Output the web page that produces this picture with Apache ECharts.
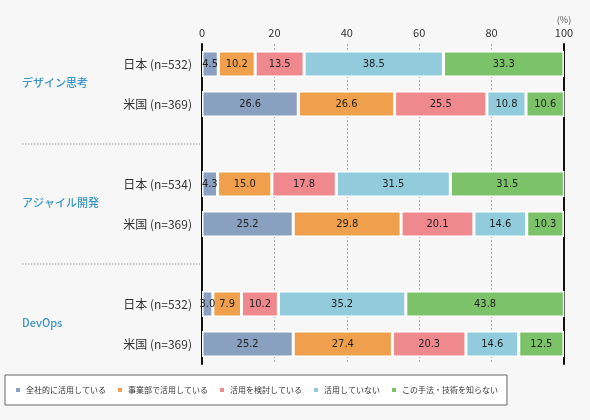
<!DOCTYPE html>
<html>
<head>
<meta charset="utf-8">
<script src="https://cdn.jsdelivr.net/npm/echarts@6/dist/echarts.min.js"></script>
<style>
  html, body { margin: 0; padding: 0; background: #f6f7f6; }
  #chart { width: 590px; height: 420px; }
</style>
</head>
<body>
<div id="chart"></div>
<script>
// rows from top; empty rows are the gaps between groups
const rowLabels = ['日本 (n=532)', '米国 (n=369)', '', '日本 (n=534)', '米国 (n=369)', '', '日本 (n=532)', '米国 (n=369)'];
const groupNames = ['デザイン思考', 'アジャイル開発', 'DevOps'];
const seriesNames = ['全社的に活用している', '事業部で活用している', '活用を検討している', '活用していない', 'この手法・技術を知らない'];
const xTicks = [0, 20, 40, 60, 80, 100];

const companyWide = [4.5, 26.6, null, 4.3, 25.2, null, 3.0, 25.2];
const department  = [10.2, 26.6, null, 15.0, 29.8, null, 7.9, 27.4];
const considering = [13.5, 25.5, null, 17.8, 20.1, null, 10.2, 20.3];
const notUsing    = [38.5, 10.8, null, 31.5, 14.6, null, 35.2, 14.6];
const unknown     = [33.3, 10.6, null, 31.5, 10.3, null, 43.8, 12.5];

const colors = ['#8aa0c1', '#f0a04c', '#f0898d', '#92cbdb', '#7cc268'];
const labelFont = "'Liberation Sans Narrow', 'DejaVu Sans Condensed', sans-serif";
const jpFont = "'Noto Sans CJK JP', sans-serif";

const rowIds = rowLabels.map((_, i) => 'r' + i);
const chart = echarts.init(document.getElementById('chart'));

const makeSeries = (name, data, i) => ({
  name: name,
  type: 'bar',
  stack: 'total',
  data: data,
  barWidth: 26,
  itemStyle: { color: colors[i], borderColor: '#fff', borderWidth: 1.5 },
  label: {
    show: true,
    position: 'inside',
    color: '#222',
    fontSize: 11,
    fontFamily: labelFont,
    formatter: p => p.value == null ? '' : Number(p.value).toFixed(1)
  }
});

chart.setOption({
  backgroundColor: '#f6f7f6',
  animation: false,
  grid: { left: 202, right: 26, top: 44, bottom: 56 },
  legend: {
    left: 5,
    top: 375,
    padding: [11, 9, 11, 9],
    itemWidth: 6,
    itemHeight: 6,
    itemGap: 10,
    icon: 'rect',
    backgroundColor: '#fff',
    borderColor: '#666',
    borderWidth: 1,
    textStyle: { fontSize: 8, color: '#333', fontFamily: jpFont },
    data: seriesNames
  },
  xAxis: {
    type: 'value',
    position: 'top',
    min: 0,
    max: 100,
    interval: 20,
    axisLine: { show: false },
    axisTick: { show: false },
    axisLabel: {
      color: '#333',
      fontSize: 11,
      margin: 6,
      fontFamily: jpFont,
      formatter: v => v === 100 ? '{u|(%)}\n' + v : String(v),
      rich: { u: { fontSize: 9, color: '#555', lineHeight: 14 } }
    },
    splitLine: { show: true, lineStyle: { color: '#aaa', type: [2, 2], width: 1 } }
  },
  yAxis: [{
    type: 'category',
    inverse: true,
    data: rowIds,
    axisLine: { show: true, lineStyle: { color: '#111', width: 2 } },
    axisTick: { show: false },
    axisLabel: {
      color: '#333',
      fontSize: 12,
      margin: 10,
      fontFamily: jpFont,
      formatter: (v, i) => rowLabels[i]
    }
  }, {
    type: 'category',
    inverse: true,
    position: 'right',
    data: rowIds,
    axisLine: { show: true, lineStyle: { color: '#111', width: 2 } },
    axisTick: { show: false },
    axisLabel: { show: false }
  }],
  series: [
    makeSeries(seriesNames[0], companyWide, 0),
    makeSeries(seriesNames[1], department, 1),
    makeSeries(seriesNames[2], considering, 2),
    makeSeries(seriesNames[3], notUsing, 3),
    makeSeries(seriesNames[4], unknown, 4)
  ]
});

// group titles and separators, placed from the axis scale
const yOf = i => chart.convertToPixel({ yAxisIndex: 0 }, rowIds[i]);
const x0 = chart.convertToPixel({ xAxisIndex: 0 }, 0);
const elements = [];
groupNames.forEach((g, k) => {
  const y = (yOf(k * 3) + yOf(k * 3 + 1)) / 2;
  elements.push({
    type: 'text',
    left: 22,
    top: y - 7,
    style: { text: g, fill: '#3a96c6', fontSize: 11, fontWeight: 500, fontFamily: jpFont }
  });
  if (k > 0) {
    const ys = yOf(k * 3 - 1);
    elements.push({
      type: 'line',
      shape: { x1: 22, y1: ys, x2: x0 - 2, y2: ys },
      style: { stroke: '#999', lineWidth: 1, lineDash: [1.5, 1.5] }
    });
  }
});
chart.setOption({ graphic: elements });
</script>
</body>
</html>
